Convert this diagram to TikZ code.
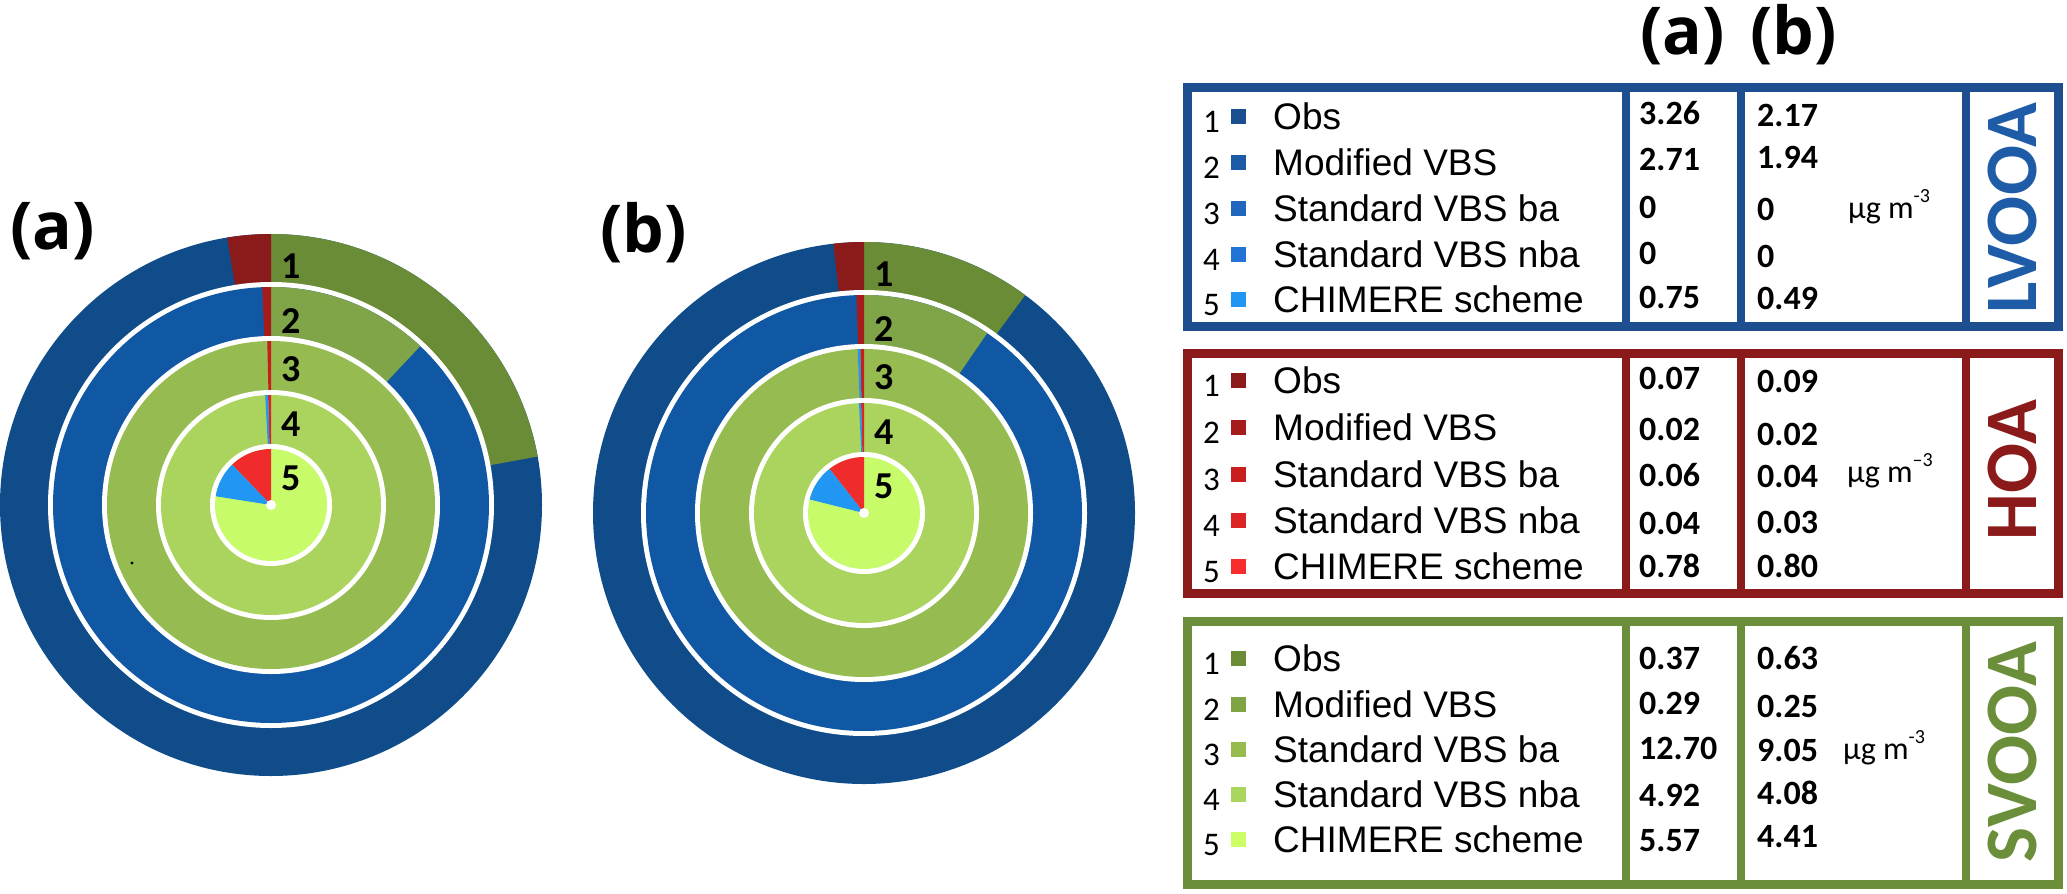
\documentclass[tikz,border=0pt]{standalone}
\usepackage{fontspec}
\setmainfont{Liberation Sans}
\newfontfamily\carl{Carlito}
\newfontfamily\osans{Open Sans}
\usetikzlibrary{calc}
\definecolor{blA}{HTML}{0F4C89}
\definecolor{blB}{HTML}{1158A4}
\definecolor{blE}{HTML}{2196F3}
\definecolor{rdA}{HTML}{8B1A1A}
\definecolor{rdB}{HTML}{A61C1C}
\definecolor{rdC}{HTML}{C81E1E}
\definecolor{rdD}{HTML}{DC2424}
\definecolor{rdE}{HTML}{EF2B2B}
\definecolor{gnA}{HTML}{6A8C37}
\definecolor{gnB}{HTML}{80A548}
\definecolor{gnC}{HTML}{96BB50}
\definecolor{gnD}{HTML}{AAD45E}
\definecolor{gnE}{HTML}{C8FB6A}
\definecolor{lv1}{HTML}{1A4F8F}
\definecolor{lv2}{HTML}{1C5AA5}
\definecolor{lv3}{HTML}{1F66BC}
\definecolor{lv4}{HTML}{2275D6}
\definecolor{lv5}{HTML}{2196F3}
\definecolor{ho1}{HTML}{8B1A1A}
\definecolor{ho2}{HTML}{A61C1C}
\definecolor{ho3}{HTML}{C81E1E}
\definecolor{ho4}{HTML}{DC2424}
\definecolor{ho5}{HTML}{F52D2D}
\definecolor{sv1}{HTML}{6A8C35}
\definecolor{sv2}{HTML}{7FA444}
\definecolor{sv3}{HTML}{96BC4F}
\definecolor{sv4}{HTML}{AAD55E}
\definecolor{sv5}{HTML}{CCFF66}
\definecolor{lvb}{HTML}{1D4E8F}
\definecolor{hob}{HTML}{8B1A1A}
\definecolor{svb}{HTML}{6B8E3A}
\definecolor{lvt}{HTML}{1F5CA8}
\newcommand\wedgefill[5]{\fill[#1] (#2) -- ++(-#4:#3) arc[start angle=-#4,end angle=-#5,radius=#3] -- cycle;}
\tikzset{
  bigl/.style={font=\osans\bfseries\fontsize{66}{70}\selectfont, anchor=base west, inner sep=0},
  ringn/.style={font=\carl\bfseries\fontsize{38}{40}\selectfont, anchor=base west, inner sep=0},
  lab/.style={font=\fontsize{37}{40}\selectfont, anchor=base west, inner sep=0},
  rown/.style={font=\carl\fontsize{33}{36}\selectfont, anchor=base west, inner sep=0},
  val/.style={font=\carl\bfseries\fontsize{34}{38}\selectfont, anchor=base west, inner sep=0},
  unit/.style={font=\carl\fontsize{32}{36}\selectfont, anchor=base west, inner sep=0},
  vlab/.style={font=\carl\bfseries\fontsize{74}{76}\selectfont, anchor=base, rotate=90, inner sep=0},
  box/.style={line width=9},
  divl/.style={line width=8},
}
\begin{document}
\begin{tikzpicture}[x=1pt,y=-1pt]
\useasboundingbox (0,0) rectangle (2067,894);
% ---------- pie (a)
\coordinate (ca) at (271,505);
\fill[blA] (ca) circle[radius=271];
\wedgefill{gnA}{ca}{271}{10.3}{90}
\wedgefill{rdA}{ca}{271}{90}{99.3}
\fill[white] (ca) circle[radius=223];
\fill[blB] (ca) circle[radius=218];
\wedgefill{gnB}{ca}{218}{46.8}{90}
\wedgefill{rdB}{ca}{218}{90}{92.3}
\fill[white] (ca) circle[radius=169];
\fill[gnC] (ca) circle[radius=164];
\wedgefill{rdC}{ca}{164}{90}{91.3}
\fill[white] (ca) circle[radius=115];
\fill[gnD] (ca) circle[radius=110];
\wedgefill{rdD}{ca}{110}{90}{91.5}
\wedgefill{blE}{ca}{110}{91.5}{93}
\fill[white] (ca) circle[radius=61];
\fill[gnE] (ca) circle[radius=56];
\wedgefill{rdE}{ca}{56}{90}{134}
\wedgefill{blE}{ca}{56}{134}{171}
\fill[white] (ca) circle[radius=5];
\fill[black] (132,563) circle[radius=1.6];
\node[ringn] (a1) at ($(ca)+(10,-227)$) {1};
\node[ringn] (a2) at ($(ca)+(10,-172)$) {2};
\node[ringn] (a3) at ($(ca)+(10,-124)$) {3};
\node[ringn] (a4) at ($(ca)+(10,-69)$) {4};
\node[ringn] (a5) at ($(ca)+(10,-15)$) {5};
\node[bigl] (la) at (10,249) {(a)};
% ---------- pie (b)
\coordinate (cb) at (864,513);
\fill[blA] (cb) circle[radius=271];
\wedgefill{gnA}{cb}{271}{53.5}{90}
\wedgefill{rdA}{cb}{271}{90}{96.5}
\fill[white] (cb) circle[radius=223];
\fill[blB] (cb) circle[radius=218];
\wedgefill{gnB}{cb}{218}{55.6}{90}
\wedgefill{rdB}{cb}{218}{90}{92}
\fill[white] (cb) circle[radius=169];
\fill[gnC] (cb) circle[radius=164];
\wedgefill{rdC}{cb}{164}{90}{91.3}
\wedgefill{blE}{cb}{164}{91.3}{92.2}
\fill[white] (cb) circle[radius=115];
\fill[gnD] (cb) circle[radius=110];
\wedgefill{rdD}{cb}{110}{90}{91.5}
\wedgefill{blE}{cb}{110}{91.5}{92.6}
\fill[white] (cb) circle[radius=61];
\fill[gnE] (cb) circle[radius=56];
\wedgefill{rdE}{cb}{56}{90}{128}
\wedgefill{blE}{cb}{56}{128}{166}
\fill[white] (cb) circle[radius=5];
\node[ringn] (b1) at ($(cb)+(10,-227)$) {1};
\node[ringn] (b2) at ($(cb)+(10,-172)$) {2};
\node[ringn] (b3) at ($(cb)+(10,-124)$) {3};
\node[ringn] (b4) at ($(cb)+(10,-69)$) {4};
\node[ringn] (b5) at ($(cb)+(10,-15)$) {5};
\node[bigl] (lb) at (600,252) {(b)};
% ---------- header
\node[bigl] (ha) at (1640,54) {(a)};
\node[bigl] (hb) at (1750,54) {(b)};
% ---------- LVOA box
\draw[box,lvb] (1187,87.5) rectangle (2058,326);
\foreach \x in {1626,1741,1966} \draw[divl,lvb] (\x,87.5) -- (\x,326);
\foreach \i/\t/\b in {1/Obs/129,2/Modified VBS/175,3/Standard VBS ba/221,4/Standard VBS nba/267,5/CHIMERE scheme/312}{
  \node[rown] (lvn\i) at (1203,\b+3) {\i};
  \fill[lv\i] (1231,\b-20.5) rectangle ++(15,15);
  \node[lab] (lvl\i) at (1273,\b) {\t};
}
\foreach \i/\v/\b in {1/3.26/124,2/2.71/170,3/0/218,4/0/264,5/0.75/308}
  \node[val] (lva\i) at (1639,\b) {\v};
\foreach \i/\v/\b in {1/2.17/126,2/1.94/168,3/0/220,4/0/267,5/0.49/309}
  \node[val] (lvb\i) at (1757,\b) {\v};
\node[unit] (lvu) at (1848,218) {µg m\raisebox{0.5em}{\fontsize{20}{20}\selectfont -3}};
\node[vlab,lvt] (lvname) at (2036,208) {LVOOA};
% ---------- HOA box
\draw[box,hob] (1187,353) rectangle (2058,593);
\foreach \x in {1626,1741,1966} \draw[divl,hob] (\x,353) -- (\x,593);
\foreach \i/\t/\b in {1/Obs/393,2/Modified VBS/440,3/Standard VBS ba/487,4/Standard VBS nba/533,5/CHIMERE scheme/579}{
  \node[rown] (hon\i) at (1203,\b+3) {\i};
  \fill[ho\i] (1231,\b-20.5) rectangle ++(15,15);
  \node[lab] (hol\i) at (1273,\b) {\t};
}
\foreach \i/\v/\b in {1/0.07/389,2/0.02/440,3/0.06/486,4/0.04/534,5/0.78/577}
  \node[val] (hoa\i) at (1639,\b) {\v};
\foreach \i/\v/\b in {1/0.09/392,2/0.02/445,3/0.04/487,4/0.03/533,5/0.80/577}
  \node[val] (hob\i) at (1757,\b) {\v};
\node[unit] (hou) at (1847,482) {µg m\raisebox{0.5em}{\fontsize{20}{20}\selectfont –3}};
\node[vlab,hob] (honame) at (2036,470) {HOA};
% ---------- SVOOA box
\draw[box,svb] (1187,621) rectangle (2058,884);
\foreach \x in {1626,1741,1966} \draw[divl,svb] (\x,621) -- (\x,884);
\foreach \i/\t/\b in {1/Obs/671,2/Modified VBS/717,3/Standard VBS ba/762,4/Standard VBS nba/807,5/CHIMERE scheme/852}{
  \node[rown] (svn\i) at (1203,\b+3) {\i};
  \fill[sv\i] (1231,\b-20.5) rectangle ++(15,15);
  \node[lab] (svl\i) at (1273,\b) {\t};
}
\foreach \i/\v/\b in {1/0.37/669,2/0.29/714,3/12.70/759,4/4.92/806,5/5.57/851}
  \node[val] (sva\i) at (1639,\b) {\v};
\foreach \i/\v/\b in {1/0.63/669,2/0.25/717,3/9.05/761,4/4.08/804,5/4.41/847}
  \node[val] (svb\i) at (1757,\b) {\v};
\node[unit] (svu) at (1843,759) {µg m\raisebox{0.5em}{\fontsize{20}{20}\selectfont -3}};
\node[vlab,svb] (svname) at (2036,752) {SVOOA};
\end{tikzpicture}
\end{document}
